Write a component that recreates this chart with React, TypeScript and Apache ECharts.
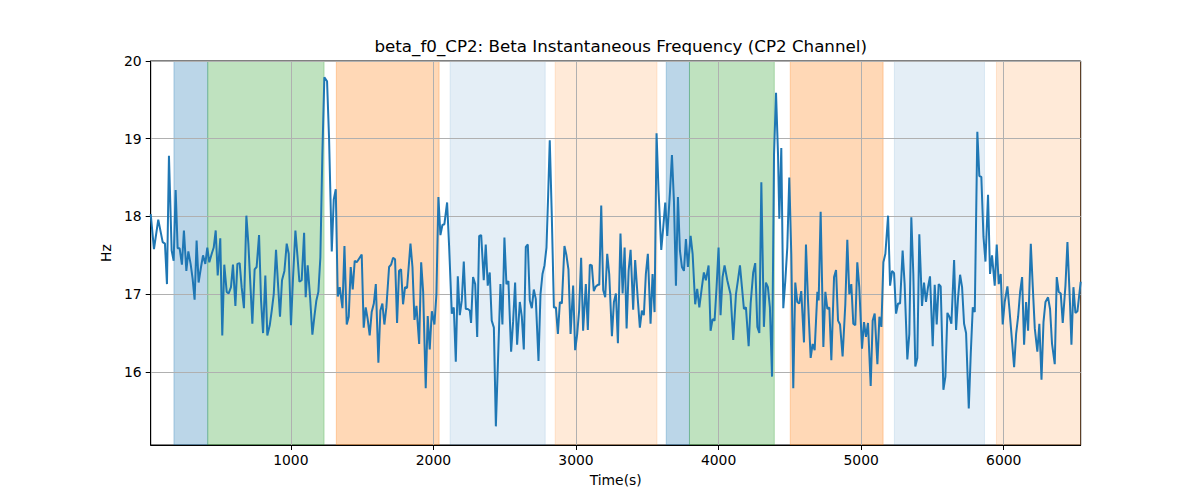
import React, { useEffect, useRef } from "react";
import * as echarts from "echarts";

// Time (s) of each sample and beta instantaneous frequency (Hz)
const timeS: number[] = [
  17, 40, 70, 101, 117, 131, 145, 164, 178, 192, 206, 220, 236, 250, 267, 281, 297, 311, 325, 339,
  353, 370, 384, 400, 414, 428, 445, 459, 473, 487, 505, 519, 533, 550, 564, 580, 594, 611, 625, 641,
  655, 671, 688, 702, 716, 730, 746, 760, 777, 791, 805, 821, 835, 852, 866, 880, 896, 910, 924, 938,
  955, 971, 985, 1001, 1015, 1032, 1046, 1060, 1076, 1093,
  1104, 1118, 1135, 1151, 1165, 1179, 1193, 1207, 1221, 1235, 1254, 1268, 1287, 1301, 1315, 1329, 1343, 1362, 1376, 1392,
  1406, 1420, 1434, 1448, 1462, 1476, 1497, 1511, 1525, 1539, 1553, 1567, 1582, 1596, 1614, 1628, 1642, 1656, 1670, 1689,
  1703, 1717, 1731, 1745, 1759, 1773, 1787, 1801, 1815, 1839, 1853, 1867, 1881, 1900, 1914, 1928, 1946, 1960, 1974, 1989,
  2007, 2021, 2035, 2049, 2063, 2077, 2096, 2110, 2129, 2143,
  2157, 2171, 2185, 2199, 2213, 2227, 2241, 2255, 2264, 2278, 2293, 2307, 2321, 2335, 2353, 2367, 2381, 2395, 2409, 2424,
  2438, 2456, 2470, 2484, 2498, 2512, 2526, 2545, 2559, 2573, 2587, 2606, 2620, 2634, 2648, 2662, 2676, 2690, 2704, 2718,
  2737, 2751, 2765, 2779, 2793, 2805, 2816, 2830, 2845, 2859, 2873, 2887, 2901, 2919, 2933, 2947, 2962, 2980, 2994, 3008,
  3022, 3036, 3050, 3069, 3083, 3097, 3111, 3125, 3139, 3153, 3163, 3177, 3191, 3205,
  3219, 3233, 3252, 3266, 3280, 3294, 3312, 3327, 3341, 3355, 3369, 3383, 3401, 3415, 3434, 3448, 3462, 3476, 3490, 3504,
  3523, 3537, 3551, 3565, 3579, 3598, 3612, 3626, 3640, 3659, 3673, 3687, 3701, 3715, 3729, 3743, 3757, 3771, 3785, 3804,
  3818, 3836, 3850, 3865, 3883, 3897, 3911, 3930, 3944, 3958, 3972, 3986, 4000, 4014, 4028, 4042, 4061, 4084, 4103, 4122,
  4136, 4150, 4164, 4178, 4192, 4211, 4225, 4243, 4257,
  4272, 4286, 4300, 4318, 4332, 4346, 4360, 4375, 4389, 4403, 4417, 4426, 4440, 4454, 4468, 4482, 4496, 4510, 4524, 4538,
  4552, 4566, 4580, 4599, 4613, 4627, 4646, 4660, 4674, 4693, 4702, 4716, 4735, 4749, 4763, 4777, 4791, 4810, 4824, 4838,
  4852, 4870, 4889, 4903, 4917, 4931, 4945, 4959, 4973, 4987, 5006, 5020, 5034, 5048, 5067, 5081, 5095, 5114, 5128, 5142,
  5156, 5170, 5189, 5203, 5217, 5231, 5245, 5259, 5273, 5291, 5305,
  5324, 5338, 5352, 5366, 5380, 5394, 5408, 5427, 5441, 5455, 5469, 5483, 5502, 5516, 5530, 5544, 5558, 5577, 5591, 5605,
  5619, 5633, 5652, 5666, 5680, 5694, 5708, 5722, 5736, 5755, 5769, 5783, 5797, 5815, 5829, 5843, 5858, 5872, 5890, 5904,
  5918, 5937, 5951, 5965, 5979, 5993, 6007, 6026, 6040, 6059, 6073, 6087, 6101, 6115, 6129, 6143, 6157, 6171, 6190, 6204,
  6218, 6236, 6250, 6265, 6279, 6293, 6311, 6325, 6339, 6358, 6372, 6386, 6400, 6414, 6433, 6447, 6466, 6475, 6489, 6503,
  6517, 6540,
];

const betaHz: number[] = [
  18.03, 17.58, 17.96, 17.67, 17.65, 17.13, 18.78, 17.56, 17.43, 18.34, 17.59, 17.59, 17.38, 17.82, 17.3, 17.55, 17.39, 17.2, 16.93, 17.69,
  17.15, 17.35, 17.5, 17.39, 17.6, 17.41, 17.52, 17.6, 17.82, 17.24, 17.72, 16.47, 17.38, 17.03, 17.01, 17.09, 17.38, 16.85, 17.39, 17.4,
  17.09, 16.82, 18.01, 17.65, 17.13, 16.62, 17.32, 17.35, 17.76, 16.92, 16.5, 17.24, 16.47, 16.6, 16.79, 17.0, 17.57, 17.13, 16.71, 17.18,
  17.3, 17.65, 17.52, 16.6, 17.2, 17.82, 17.5, 17.16, 17.18, 17.79,
  16.96, 17.37, 16.96, 16.48, 16.71, 16.92, 17.03, 17.47, 18.8, 19.79, 19.74, 19.01, 17.55, 18.22, 18.35, 16.97, 17.09, 16.82, 17.62, 16.61,
  16.71, 17.35, 17.06, 17.43, 17.41, 17.45, 17.51, 16.57, 16.83, 16.68, 16.47, 16.77, 16.88, 17.13, 16.12, 16.79, 16.88, 16.61, 16.83, 17.35,
  17.38, 17.47, 17.45, 16.63, 17.3, 17.32, 16.87, 17.09, 17.08, 17.65, 17.35, 16.67, 16.85, 16.36, 17.41, 17.03, 15.79, 16.72, 16.29, 16.78,
  16.61, 17.0, 18.25, 17.76, 17.89, 17.9, 18.18, 17.62, 16.75, 16.83,
  16.13, 17.23, 16.73, 16.92, 17.42, 16.81, 16.81, 16.79, 16.63, 17.22, 17.13, 16.45, 17.75, 17.76, 17.18, 17.64, 17.11, 17.28, 16.66, 16.57,
  15.3, 16.32, 17.13, 16.61, 17.73, 17.13, 17.17, 16.26, 16.65, 17.15, 16.35, 16.9, 16.71, 16.29, 17.61, 17.64, 16.92, 16.82, 17.06, 16.94,
  16.14, 17.0, 17.26, 17.37, 17.6, 18.29, 18.98, 18.03, 16.83, 16.83, 16.49, 16.9, 16.88, 17.62, 17.5, 17.32, 16.49, 17.11, 16.28, 16.48,
  16.79, 17.47, 16.53, 17.13, 16.54, 17.38, 17.37, 17.04, 17.1, 17.12, 17.12, 18.14, 17.05, 16.96,
  17.52, 17.26, 16.46, 16.9, 17.01, 16.37, 17.78, 17.01, 17.6, 16.56, 17.3, 17.57, 16.8, 17.44, 16.92, 16.57, 16.79, 16.73, 17.26, 17.52,
  16.62, 17.26, 16.77, 19.07, 18.33, 17.57, 17.86, 18.18, 17.75, 18.31, 18.79, 18.2, 17.11, 18.25, 17.56, 17.35, 17.3, 17.71, 17.35, 17.75,
  17.52, 16.87, 17.07, 16.83, 17.09, 17.28, 17.18, 17.37, 16.53, 16.68, 16.66, 17.09, 17.6, 16.73, 17.22, 17.37, 17.18, 17.0, 16.41, 17.0,
  17.18, 17.37, 17.09, 16.81, 16.83, 16.33, 16.88, 17.28, 17.4,
  16.58, 16.5, 18.44, 16.58, 17.15, 17.09, 16.83, 15.94, 18.8, 19.59, 18.8, 17.97, 18.88, 16.82, 17.17, 17.6, 18.5, 17.52, 15.79, 17.15,
  16.9, 16.88, 17.04, 16.38, 17.64, 16.93, 16.18, 16.36, 16.28, 17.03, 16.92, 18.06, 16.32, 17.03, 16.81, 16.83, 16.15, 17.22, 17.31, 16.66,
  16.61, 16.2, 16.87, 17.7, 17.0, 17.13, 16.62, 16.6, 17.41, 17.09, 16.3, 16.64, 16.45, 16.63, 15.82, 16.66, 16.75, 16.1, 16.71, 16.58,
  17.41, 17.52, 18.01, 17.11, 17.3, 17.27, 16.75, 16.88, 16.88, 17.56, 17.13,
  16.16, 16.49, 17.99, 17.26, 16.07, 16.18, 17.77, 16.85, 17.15, 16.9, 17.09, 17.23, 16.33, 17.12, 16.61, 17.13, 17.1, 15.77, 15.94, 16.76,
  16.71, 16.62, 17.44, 16.54, 16.96, 17.25, 17.09, 16.62, 16.5, 15.53, 16.24, 16.83, 16.77, 19.09, 18.52, 18.51, 17.74, 17.42, 18.28, 17.26,
  17.5, 17.11, 17.64, 17.13, 17.26, 16.61, 16.9, 17.1, 16.81, 16.38, 16.06, 16.49, 16.71, 17.03, 17.22, 16.35, 16.9, 16.53, 17.65, 17.09,
  16.56, 16.26, 16.62, 15.9, 16.64, 16.9, 16.96, 16.81, 16.36, 16.1, 17.22, 17.03, 17.01, 16.63, 17.11, 17.67, 16.83, 16.35, 17.09, 16.76,
  16.78, 17.16,
];

// Shaded intervals (s) and their kind
const regionStart: number[] = [180, 417, 1319, 2117, 2854, 3633, 3796, 4503, 5233, 5949];
const regionEnd: number[] = [417, 1233, 2040, 2784, 3568, 3796, 4391, 5154, 5865, 6540];
const regionKind: string[] = ["blue", "green", "orange", "paleBlue", "paleOrange", "blue", "green", "orange", "paleBlue", "paleOrange"];

const xTicks: number[] = [1000, 2000, 3000, 4000, 5000, 6000];
const yTicks: number[] = [16, 17, 18, 19, 20];

const X_MIN = 17;
const X_MAX = 6540;
const Y_MIN = 15.06;
const Y_MAX = 20;

const kindColor: Record<string, string> = {
  blue: "rgba(31,119,180,0.3)",
  green: "rgba(44,160,44,0.3)",
  orange: "rgba(255,127,14,0.3)",
  paleBlue: "rgba(31,119,180,0.12)",
  paleOrange: "rgba(255,127,14,0.16)",
};

const FONT = "DejaVu Sans";

export default function App() {
  const ref = useRef<HTMLDivElement>(null);

  useEffect(() => {
    document.body.style.margin = "0";
    if (!ref.current) return;
    const chart = echarts.init(ref.current, null, { renderer: "svg" });

    const lineData = timeS.map((t, i) => [t, betaHz[i]]);
    const regionData = regionStart.map((s, i) => [s, regionEnd[i], i]);

    chart.setOption({
      animation: false,
      backgroundColor: "#ffffff",
      title: {
        text: "beta_f0_CP2: Beta Instantaneous Frequency (CP2 Channel)",
        left: 615.7,
        top: 32,
        textAlign: "center",
        textStyle: { fontFamily: FONT, fontSize: 16.7, fontWeight: "normal", color: "#000" },
      },
      grid: {
        left: 150.7,
        right: 119.3,
        top: 61,
        bottom: 55,
        show: true,
        borderColor: "#000",
        borderWidth: 1,
        backgroundColor: "transparent",
      },
      xAxis: {
        type: "value",
        min: X_MIN,
        max: X_MAX,
        z: 1,
        name: "Time(s)",
        nameLocation: "middle",
        nameGap: 28,
        nameTextStyle: { fontFamily: FONT, fontSize: 13.9, color: "#000" },
        axisLine: { show: true, onZero: false, lineStyle: { color: "#000", width: 1 } },
        axisTick: { show: true, length: 5, customValues: xTicks, lineStyle: { color: "#000", width: 1 } },
        axisLabel: {
          customValues: xTicks,
          margin: 8,
          fontFamily: FONT,
          fontSize: 13.9,
          color: "#000",
          formatter: (v: number) => String(v),
        },
        splitLine: { show: true, lineStyle: { color: "#b0b0b0", width: 1 } },
      },
      yAxis: {
        type: "value",
        min: Y_MIN,
        max: Y_MAX,
        z: 1,
        name: "Hz",
        nameLocation: "middle",
        nameRotate: 90,
        nameGap: 34,
        nameTextStyle: { fontFamily: FONT, fontSize: 13.9, color: "#000" },
        axisLine: { show: true, lineStyle: { color: "#000", width: 1 } },
        axisTick: { show: true, length: 5, customValues: yTicks, lineStyle: { color: "#000", width: 1 } },
        axisLabel: {
          customValues: yTicks,
          margin: 9,
          fontFamily: FONT,
          fontSize: 13.9,
          color: "#000",
          formatter: (v: number) => String(v),
        },
        splitLine: { show: true, lineStyle: { color: "#b0b0b0", width: 1 } },
      },
      series: [
        {
          type: "custom",
          z: 0,
          silent: true,
          clip: true,
          encode: { x: [0, 1] },
          data: regionData,
          renderItem: (params: any, api: any) => {
            const cs = params.coordSys;
            const x0 = api.coord([api.value(0), Y_MAX])[0];
            const x1 = api.coord([api.value(1), Y_MAX])[0];
            const kind = regionKind[api.value(2)];
            const c = kindColor[kind];
            return {
              type: "rect",
              shape: { x: x0, y: cs.y, width: x1 - x0, height: cs.height },
              style: { fill: c, stroke: c, lineWidth: 1 },
            };
          },
        },
        {
          type: "line",
          z: 3,
          data: lineData,
          showSymbol: false,
          symbol: "none",
          lineStyle: { color: "#1f77b4", width: 2 },
          silent: true,
        },
      ],
    });

    return () => chart.dispose();
  }, []);

  return <div ref={ref} style={{ width: 1200, height: 500 }} />;
}
